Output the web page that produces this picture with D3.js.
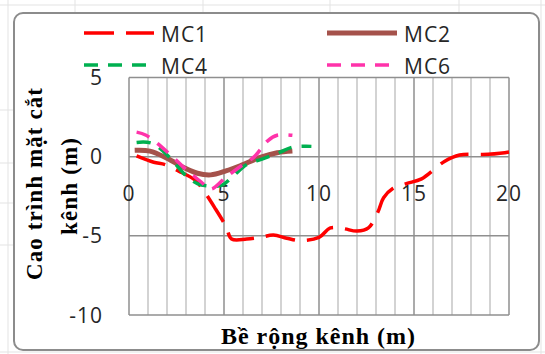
<!DOCTYPE html>
<html>
<head>
<meta charset="utf-8">
<script src="https://cdn.jsdelivr.net/npm/d3@7"></script>
<style>
  body { margin: 0; background: #fff; }
  svg { display: block; }
</style>
</head>
<body>
<div id="plot"></div>
<script>
// Series: [width (m), level (m)]
const mc1 = [[0.4, 0.05], [1.3, -0.35], [1.9, -0.5], [2.6, -0.9], [3.5, -1.5], [3.9, -2.1], [4.5, -3.2],
  [5.1, -4.4], [5.4, -5.2], [6.2, -5.2], [6.9, -5.1], [7.6, -4.95], [8.3, -5.15], [9.0, -5.3],
  [10.0, -5.1], [10.6, -4.5], [11.3, -4.55], [12.0, -4.7], [12.6, -4.5], [13.1, -3.5], [13.4, -2.6],
  [13.9, -2.0], [14.6, -1.7], [15.4, -1.4], [16.6, -0.3], [17.4, 0.1], [18.9, 0.15], [20.0, 0.3]];
const mc2 = [[0.3, 0.4], [1.1, 0.35], [2.0, -0.1], [2.9, -0.7], [3.6, -1.05], [4.3, -1.15],
  [5.1, -0.9], [5.9, -0.55], [6.9, -0.05], [7.8, 0.25], [8.6, 0.35]];
const mc4 = [[0.4, 0.9], [1.2, 0.85], [2.1, 0.0], [3.0, -1.2], [3.6, -1.7], [4.2, -1.85],
  [4.9, -1.8], [5.5, -1.2], [6.2, -0.5], [7.0, -0.15], [7.9, 0.25], [8.6, 0.6], [9.6, 0.65]];
const mc6 = [[0.4, 1.55], [0.9, 1.35], [2.2, 0.1], [3.0, -0.8], [3.8, -1.6], [4.3, -2.05],
  [5.1, -1.3], [6.0, -0.5], [6.6, 0.0], [7.3, 1.0], [7.8, 1.35], [8.6, 1.35]];

const seriesNames = ["MC1", "MC2", "MC4", "MC6"];
const xTicks = [0, 5, 10, 15, 20];
const yTicks = [5, 0, -5, -10];
const xTitle = "Bề rộng kênh (m)";
const yTitle = ["Cao trình mặt cắt", "kênh (m)"];

const width = 545;
const height = 354;

const svg = d3.select("#plot")
    .append("svg")
    .attr("width", width)
    .attr("height", height);

// faint spreadsheet cells behind the chart
const sheet = svg.append("g").attr("stroke", "#e3e3e3").attr("stroke-width", 1);
[8, 541].forEach(x => sheet.append("line").attr("x1", x).attr("x2", x).attr("y1", 0).attr("y2", height));
[5, 352].forEach(y => sheet.append("line").attr("x1", 0).attr("x2", width).attr("y1", y).attr("y2", y));
[75, 203, 330, 459].forEach(x => sheet.append("line").attr("x1", x).attr("x2", x).attr("y1", 0).attr("y2", 13));
[110, 163, 203, 245].forEach(y => sheet.append("line").attr("x1", 0).attr("x2", 14).attr("y1", y).attr("y2", y));

// chart frame
svg.append("rect")
    .attr("x", 14).attr("y", 13)
    .attr("width", 525).attr("height", 337)
    .attr("rx", 9)
    .attr("fill", "#fff")
    .attr("stroke", "#8c8c8c")
    .attr("stroke-width", 2);

const x = d3.scaleLinear().domain([0, 20]).range([129, 509]);
const y = d3.scaleLinear().domain([-10, 5]).range([315, 77.5]);

// vertical grid every 1 m, darker every 5 m
const grid = svg.append("g");
grid.selectAll("line.v")
    .data(d3.range(0, 21))
    .enter()
    .append("line")
    .attr("x1", d => x(d)).attr("x2", d => x(d))
    .attr("y1", y(5)).attr("y2", y(-10))
    .attr("stroke", d => d % 5 === 0 ? "#8f8f8f" : "#c4c4c4")
    .attr("stroke-width", 1.5);

grid.selectAll("line.h")
    .data(yTicks)
    .enter()
    .append("line")
    .attr("x1", x(0)).attr("x2", x(20))
    .attr("y1", d => y(d)).attr("y2", d => y(d))
    .attr("stroke", "#8f8f8f")
    .attr("stroke-width", 1.5);

const tickFont = "'Open Sans', 'Liberation Sans', sans-serif";

// y tick labels
svg.append("g").selectAll("text")
    .data(yTicks)
    .enter()
    .append("text")
    .attr("x", 103)
    .attr("y", d => y(d) + 7.5)
    .attr("text-anchor", "end")
    .attr("fill", "#262626")
    .style("font-family", tickFont)
    .style("font-size", "21px")
    .style("letter-spacing", "1px")
    .text(d => d);

// x tick labels sit inside the plot, below the zero line
svg.append("g").selectAll("text")
    .data(xTicks)
    .enter()
    .append("text")
    .attr("x", d => x(d))
    .attr("y", 200.5)
    .attr("text-anchor", "middle")
    .attr("fill", "#262626")
    .style("font-family", tickFont)
    .style("font-size", "21px")
    .style("letter-spacing", "1px")
    .text(d => d);

// line styles
const styles = {
    MC1: { color: "#ff0000", width: 3.5, dash: "30,12" },
    MC2: { color: "#a5524b", width: 5, dash: null },
    MC4: { color: "#00b050", width: 3.5, dash: "14,10" },
    MC6: { color: "#ff33aa", width: 3.5, dash: "14,10" }
};
const allData = { MC1: mc1, MC2: mc2, MC4: mc4, MC6: mc6 };

const line = d3.line()
    .x(d => x(d[0]))
    .y(d => y(d[1]))
    .curve(d3.curveCatmullRom.alpha(0.5));

// draw in Excel's order: MC1 first, MC6 last
seriesNames.forEach(name => {
    const s = styles[name];
    svg.append("path")
        .datum(allData[name])
        .attr("d", line)
        .attr("fill", "none")
        .attr("stroke", s.color)
        .attr("stroke-width", s.width)
        .attr("stroke-dasharray", s.dash)
        .attr("stroke-linejoin", "round");
});

// legend, two columns
const legendPos = [[84, 33], [327, 33], [84, 65], [327, 65]];
seriesNames.forEach((name, i) => {
    const s = styles[name];
    const [lx, ly] = legendPos[i];
    svg.append("line")
        .attr("x1", lx).attr("x2", lx + 70)
        .attr("y1", ly).attr("y2", ly)
        .attr("stroke", s.color)
        .attr("stroke-width", s.width)
        .attr("stroke-dasharray", s.dash);
    svg.append("text")
        .attr("x", lx + 77)
        .attr("y", ly + 8.5)
        .attr("fill", "#262626")
        .style("font-family", tickFont)
        .style("font-size", "21px")
        .style("letter-spacing", "1px")
        .text(name);
});

const titleFont = "'Liberation Serif', 'Times New Roman', serif";

// x axis title
svg.append("text")
    .attr("x", 318)
    .attr("y", 344)
    .attr("text-anchor", "middle")
    .attr("textLength", 194)
    .attr("lengthAdjust", "spacing")
    .attr("fill", "#000")
    .style("font-family", titleFont)
    .style("font-weight", "bold")
    .style("font-size", "24px")
    .text(xTitle);

// y axis title, two rotated lines
[[41.5, 184, 192], [76.5, 186.5, 97]].forEach((p, i) => {
    svg.append("text")
        .attr("transform", `translate(${p[0]},${p[1]}) rotate(-90)`)
        .attr("text-anchor", "middle")
        .attr("textLength", p[2])
        .attr("lengthAdjust", "spacing")
        .attr("fill", "#000")
        .style("font-family", titleFont)
        .style("font-weight", "bold")
        .style("font-size", "23px")
        .text(yTitle[i]);
});
</script>
</body>
</html>
